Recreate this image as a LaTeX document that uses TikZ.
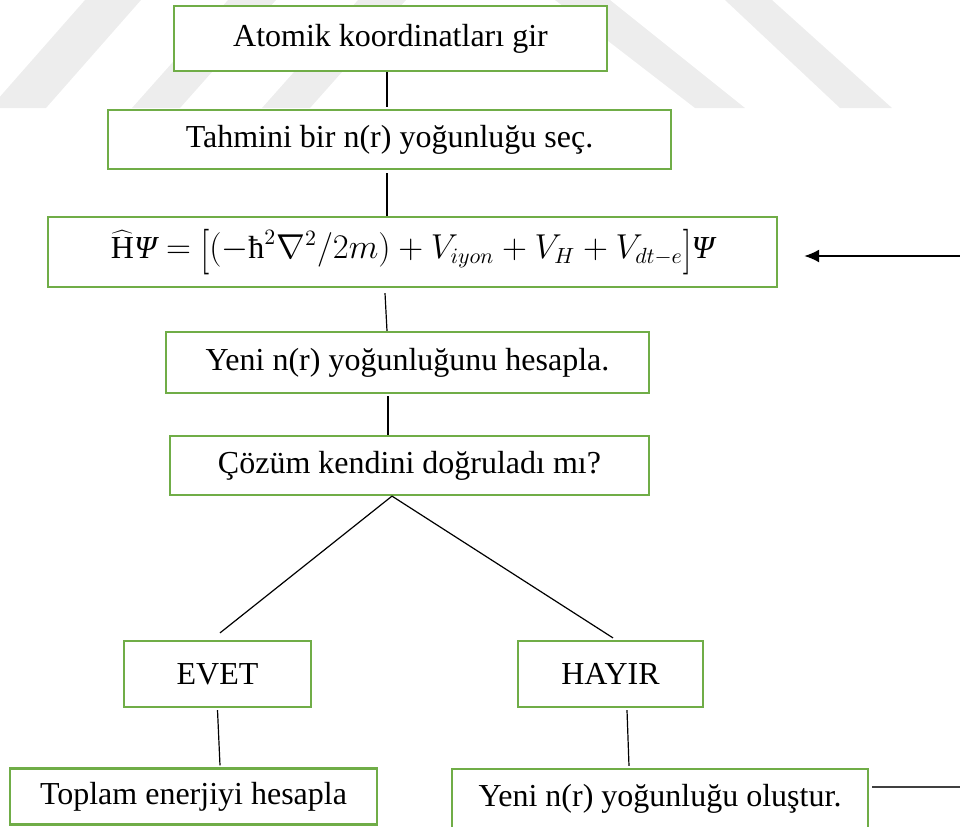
\documentclass[tikz,border=0pt]{standalone}
\usepackage{graphicx}
\usepackage{fontspec}
\setmainfont{Liberation Serif}
\usetikzlibrary{arrows.meta}
\definecolor{boxgreen}{HTML}{70AD47}
\definecolor{wmgray}{HTML}{EDEDED}
\newcommand{\itpsi}{\mbox{\itshape Ψ}}
\newcommand{\tallbr}[1]{\mathord{\raisebox{-0.16em}{\scalebox{1}[1.32]{$#1$}}}}
\begin{document}
\begin{tikzpicture}[x=0.5pt,y=-0.5pt,
  box/.style={draw=boxgreen, line width=1.1pt, fill=white, inner sep=0pt,
    font=\fontsize{16}{19}\selectfont},
  bx/.style 2 args={minimum width=#1*0.5pt, minimum height=#2*0.5pt},
  conn/.style={draw=black, line width=0.6pt},
  wm/.style={fill=wmgray, draw=none}]
\useasboundingbox (0,0) rectangle (960,826);
\clip (0,0) rectangle (960,826);
% watermark stripes
\fill[wm] (-10,108) -- (46,108) -- (141,0) -- (85,0) -- cycle;
\fill[wm] (132,108) -- (180,108) -- (276,0) -- (228,0) -- cycle;
\fill[wm] (262,108) -- (310,108) -- (406,0) -- (358,0) -- cycle;
\fill[wm] (695,108) -- (745,108) -- (610,0) -- (555,0) -- cycle;
\fill[wm] (840,108) -- (892,108) -- (772,0) -- (725,0) -- cycle;
% boxes
\node[box, bx={433}{65}] (B1) at (390.5,38.5) {Atomik koordinatları gir};
\node[box, bx={563}{59}] (B2) at (389.5,139.5) {Tahmini bir n(r) yoğunluğu seç.};
\node[box, bx={729}{70}] (B3) at (412.5,252)
  {$\widehat{\mathrm{H}}\itpsi = \tallbr{[}(-\mbox{ħ}^2\nabla^2/2m) + V_{iyon} + V_H + V_{dt-e}\tallbr{]}\itpsi$};
\node[box, bx={483}{61}] (B4) at (407.5,362.5) {Yeni n(r) yoğunluğunu hesapla.};
\node[box, bx={479}{59}] (B5) at (409.5,465.5) {Çözüm kendini doğruladı mı?};
\node[box, bx={187}{66}] (EV) at (217.5,674) {EVET};
\node[box, bx={185}{66}] (HA) at (610.5,674) {HAYIR};
\node[box, bx={367}{56}] (TO) at (193.5,796.5) {Toplam enerjiyi hesapla};
\node[box, bx={416}{60}] (YE) at (660,799) {Yeni n(r) yoğunluğu oluştur.};
% connectors
\draw[conn] ([xshift=-1.75pt]B1.south) -- ([xshift=-1.25pt,yshift=1pt]B2.north);
\draw[conn] ([xshift=-1.25pt,yshift=-1.5pt]B2.south) -- ([xshift=-12.75pt]B3.north);
\draw[conn] ([xshift=-13.75pt,yshift=-2.5pt]B3.south) -- ([xshift=-10.25pt]B4.north);
\draw[conn] ([xshift=-9.75pt,yshift=-1pt]B4.south) -- ([xshift=-10.75pt]B5.north);
\draw[conn] ([xshift=-8.75pt]B5.south) -- ([xshift=1.25pt,yshift=3.5pt]EV.north);
\draw[conn] ([xshift=-8.75pt]B5.south) -- ([xshift=1.25pt,yshift=1pt]HA.north);
\draw[conn] ([yshift=-1pt]EV.south) -- ([xshift=13.25pt,yshift=1pt]TO.north);
\draw[conn] ([xshift=8.25pt,yshift=-1pt]HA.south) -- ([xshift=-15.5pt,yshift=1pt]YE.north);
% feedback
\coordinate (fbR) at (962,256);
\coordinate (fbB) at (962,787);
\draw[line width=1pt, -{Latex[length=7.5pt,width=6.5pt]}] (fbR) -- ([xshift=13pt,yshift=-2pt]B3.east);
\draw[line width=0.9pt, black!75] ([xshift=1.5pt,yshift=6pt]YE.east) -- (fbB);
\end{tikzpicture}
\end{document}
